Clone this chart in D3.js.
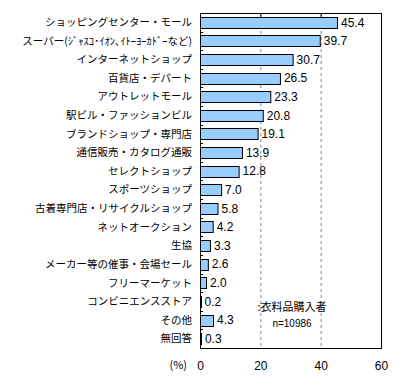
<!DOCTYPE html>
<html>
<head>
<meta charset="utf-8">
<script src="https://cdn.jsdelivr.net/npm/d3@7"></script>
<style>
body { margin: 0; background: #fff; }
text { font-family: "Noto Sans CJK JP", sans-serif; fill: #000; }
.num { font-family: "Liberation Sans", Arial, sans-serif; }
</style>
</head>
<body>
<svg class="chart"></svg>
<script>
// categories and values (%)
var categories = ["ショッピングセンター・モール", "スーパー(ｼﾞｬｽｺ･ｲｵﾝ､ｲﾄｰﾖｰｶﾄﾞｰなど)", "インターネットショップ",
  "百貨店・デパート", "アウトレットモール", "駅ビル・ファッションビル", "ブランドショップ・専門店",
  "通信販売・カタログ通販", "セレクトショップ", "スポーツショップ", "古着専門店・リサイクルショップ",
  "ネットオークション", "生協", "メーカー等の催事・会場セール", "フリーマーケット",
  "コンビニエンスストア", "その他", "無回答"];
var values = [45.4, 39.7, 30.7, 26.5, 23.3, 20.8, 19.1, 13.9, 12.8, 7.0, 5.8, 4.2, 3.3, 2.6, 2.0, 0.2, 4.3, 0.3];
var xTicks = [0, 20, 40, 60];

var margin = {top: 13, right: 26, bottom: 37, left: 200},
    width = 407 - margin.left - margin.right,
    height = 385 - margin.top - margin.bottom;

var x = d3.scaleLinear().domain([0, 60]).range([0, width]);
var y = d3.scaleBand().domain(categories).range([0, height]).paddingInner(0.4).paddingOuter(0.2);

var svg = d3.select(".chart")
    .attr("width", 407)
    .attr("height", 385)
  .append("g")
    .attr("transform", "translate(" + margin.left + "," + margin.top + ")");

// dashed grid lines
svg.selectAll(".grid")
    .data([20, 40])
  .enter().append("line")
    .attr("x1", function(d) { return x(d) + 0.5; })
    .attr("x2", function(d) { return x(d) + 0.5; })
    .attr("y1", 0)
    .attr("y2", height)
    .attr("stroke", "#888")
    .attr("stroke-dasharray", "3,3");

// small solid ticks on top edge
svg.selectAll(".ttick")
    .data([20, 40])
  .enter().append("line")
    .attr("x1", function(d) { return x(d) + 0.5; })
    .attr("x2", function(d) { return x(d) + 0.5; })
    .attr("y1", 0)
    .attr("y2", 4)
    .attr("stroke", "#000");

// bars
svg.selectAll(".bar")
    .data(values)
  .enter().append("rect")
    .attr("x", 0.5)
    .attr("y", function(d, i) { return Math.round(y(categories[i])) + 0.5; })
    .attr("width", function(d) { return Math.max(x(d), 1); })
    .attr("height", Math.round(y.bandwidth()))
    .attr("fill", "#99ccff")
    .attr("stroke", "#000");

// band separator ticks on the left edge
svg.selectAll(".ltick")
    .data(categories.slice(1))
  .enter().append("line")
    .attr("x1", 0)
    .attr("x2", 3)
    .attr("y1", function(d) { return Math.round(y(d) - y.step() * y.paddingInner() / 2) + 0.5; })
    .attr("y2", function(d) { return Math.round(y(d) - y.step() * y.paddingInner() / 2) + 0.5; })
    .attr("stroke", "#000");

// value labels
svg.selectAll(".val")
    .data(values)
  .enter().append("text")
    .attr("class", "num")
    .attr("x", function(d) { return x(d) + 4; })
    .attr("y", function(d, i) { return y(categories[i]) + y.bandwidth() / 2; })
    .attr("dy", "0.35em")
    .style("font-size", "12px")
    .text(function(d) { return d.toFixed(1); });

// frame
svg.append("rect")
    .attr("x", 0.5).attr("y", 0.5)
    .attr("width", width).attr("height", height)
    .attr("fill", "none").attr("stroke", "#000");

// category labels
svg.selectAll(".cat")
    .data(categories)
  .enter().append("text")
    .attr("x", -8)
    .attr("y", function(d) { return y(d) + y.bandwidth() / 2; })
    .attr("dy", "0.35em")
    .style("text-anchor", "end")
    .style("font-size", "10.5px")
    .text(function(d) { return d; });

// x axis
var xAxis = svg.append("g")
    .attr("transform", "translate(0," + (height + 10) + ")")
    .call(d3.axisBottom(x).tickValues(xTicks).tickSize(0).tickFormat(d3.format("d")));
xAxis.select(".domain").remove();
xAxis.selectAll("text").attr("class", "num").style("font-size", "12px").attr("fill", "#000");

svg.append("text")
    .attr("x", -13)
    .attr("y", height + 17)
    .attr("dy", "0.35em")
    .style("text-anchor", "end")
    .style("font-size", "11px")
    .text("(%)");

// note
svg.append("text")
    .attr("x", 92)
    .attr("y", 298)
    .style("text-anchor", "middle")
    .style("font-size", "11px")
    .text(":衣料品購入者");
svg.append("text")
    .attr("class", "num")
    .attr("x", 92)
    .attr("y", 314)
    .style("text-anchor", "middle")
    .style("font-size", "10px")
    .text("n=10986");
</script>
</body>
</html>
